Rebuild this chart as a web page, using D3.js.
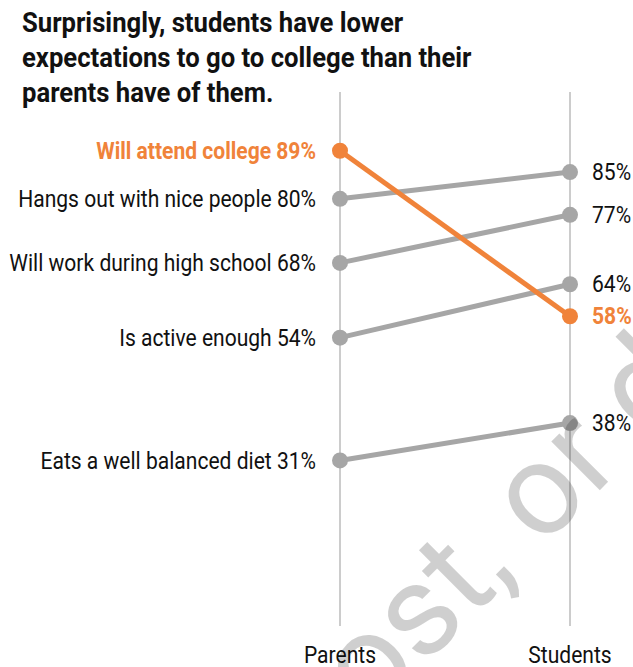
<!DOCTYPE html>
<html>
<head>
<meta charset="utf-8">
<script src="https://cdn.jsdelivr.net/npm/d3@7"></script>
<style>
  body { margin: 0; background: #fff; }
  svg text { font-family: Roboto, "Noto Sans", sans-serif; }
</style>
</head>
<body>
<div id="container"></div>
<script>
// slope chart: parents vs students expectations
var items = ["Will attend college", "Hangs out with nice people", "Will work during high school", "Is active enough", "Eats a well balanced diet"];
var parentsValues = [89, 80, 68, 54, 31];
var studentsValues = [58, 85, 77, 64, 38];
var highlight = [true, false, false, false, false];
var groups = ["Parents", "Students"];
var titleLines = ["Surprisingly, students have lower", "expectations to go to college than their", "parents have of them."];
var watermark = "Do not copy, post, or distribute";

var width = 633, height = 667;
var orange = "#f0833a", grey = "#a6a6a6";

// the original uses a condensed face, squeeze Roboto a bit
function squeeze(sel, k) {
  sel.each(function() {
    var len = this.getComputedTextLength();
    d3.select(this).attr("textLength", len * k).attr("lengthAdjust", "spacingAndGlyphs");
  });
}

var svg = d3.select("#container").append("svg")
  .attr("width", width)
  .attr("height", height);

var x = d3.scalePoint().domain(groups).range([340, 570]);
var y = d3.scaleLinear().domain([0, 100]).range([626, 92]);

// title
svg.append("g").selectAll("text")
  .data(titleLines)
  .enter().append("text")
  .attr("x", 22)
  .attr("y", function(d, i) { return 32 + i * 35; })
  .attr("font-size", 27)
  .attr("font-weight", "bold")
  .attr("fill", "#111")
  .text(function(d) { return d; })
  .call(squeeze, 0.95);

// vertical guides
svg.append("g").selectAll("line")
  .data(groups)
  .enter().append("line")
  .attr("x1", function(d) { return x(d); })
  .attr("x2", function(d) { return x(d); })
  .attr("y1", y(100))
  .attr("y2", y(0))
  .attr("stroke", "#999")
  .attr("stroke-width", 1);

// group labels at bottom
svg.append("g").selectAll("text")
  .data(groups)
  .enter().append("text")
  .attr("x", function(d) { return x(d); })
  .attr("y", 663)
  .attr("text-anchor", "middle")
  .attr("font-size", 23)
  .attr("fill", "#111")
  .text(function(d) { return d; })
  .call(squeeze, 0.915);

var rows = items.map(function(d, i) {
  return { name: d, p: parentsValues[i], s: studentsValues[i], hi: highlight[i] };
});
// grey first, highlighted on top
rows.sort(function(a, b) { return a.hi - b.hi; });

var row = svg.append("g").selectAll("g")
  .data(rows)
  .enter().append("g");

row.append("line")
  .attr("x1", x("Parents"))
  .attr("x2", x("Students"))
  .attr("y1", function(d) { return y(d.p); })
  .attr("y2", function(d) { return y(d.s); })
  .attr("stroke", function(d) { return d.hi ? orange : grey; })
  .attr("stroke-width", 5);

row.append("circle")
  .attr("cx", x("Parents"))
  .attr("cy", function(d) { return y(d.p); })
  .attr("r", 8)
  .attr("fill", function(d) { return d.hi ? orange : grey; });

row.append("circle")
  .attr("cx", x("Students"))
  .attr("cy", function(d) { return y(d.s); })
  .attr("r", 8)
  .attr("fill", function(d) { return d.hi ? orange : grey; });

row.append("text")
  .attr("x", x("Parents") - 24)
  .attr("y", function(d) { return y(d.p); })
  .attr("dy", "0.35em")
  .attr("text-anchor", "end")
  .attr("font-size", 23)
  .attr("font-weight", function(d) { return d.hi ? "bold" : "normal"; })
  .attr("fill", function(d) { return d.hi ? orange : "#111"; })
  .text(function(d) { return d.name + " " + d.p + "%"; })
  .call(squeeze, 0.915);

row.append("text")
  .attr("x", x("Students") + 22)
  .attr("y", function(d) { return y(d.s); })
  .attr("dy", "0.35em")
  .attr("font-size", 23)
  .attr("font-weight", function(d) { return d.hi ? "bold" : "normal"; })
  .attr("fill", function(d) { return d.hi ? orange : "#111"; })
  .text(function(d) { return d.s + "%"; })
  .call(squeeze, 0.915);

// watermark, laid over everything
var wm = svg.append("g")
  .attr("transform", "translate(541,549) rotate(-45)");
var wmText = wm.append("text")
  .attr("font-size", 130)
  .attr("fill", "#000")
  .attr("fill-opacity", 0.19)
  .text(watermark);
var oIdx = watermark.indexOf("or d");
var off = wmText.node().getStartPositionOfChar(oIdx).x;
wmText.attr("x", -off);
</script>
</body>
</html>
